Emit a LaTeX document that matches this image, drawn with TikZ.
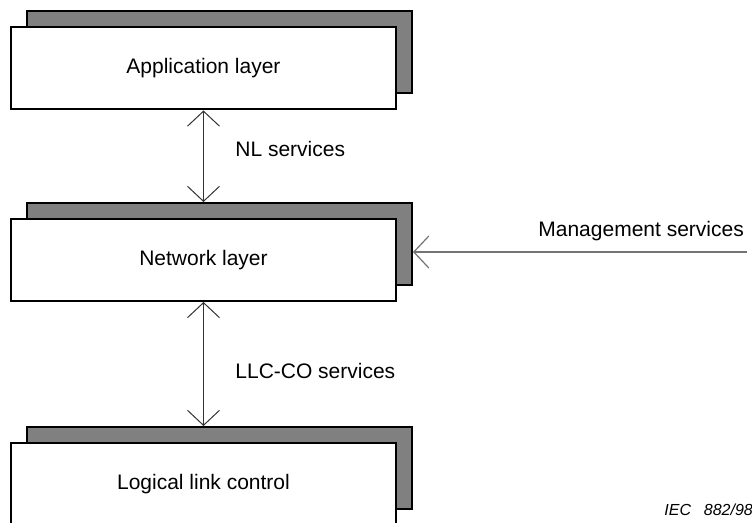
\documentclass[tikz,border=0pt]{standalone}
\usepackage{fontspec}
\setmainfont{Liberation Sans}
\usetikzlibrary{positioning,arrows.meta}

\tikzset{barb/.tip={Straight Barb[length=7.5pt,width=16pt]}}

\begin{document}
\begin{tikzpicture}[
  x=0.5pt, y=-0.5pt,
  layer/.style={rectangle, draw, line width=1pt, fill=white, inner sep=0pt,
                minimum width=192.5pt, minimum height=41pt,
                font=\fontsize{10.5}{12}\selectfont},
  backlayer/.style={layer, fill=black!50},
  service/.style={barb-barb, line width=0.5pt, black!80},
  feed/.style={-barb, line width=0.6pt, black!55},
  svclabel/.style={anchor=base west, inner sep=0pt, font=\fontsize{10.5}{12}\selectfont}
]
\useasboundingbox (0,0) rectangle (752,523);

% stacked layer boxes
\node[backlayer] (appback) at (219.5,52.5) {};
\node[layer] (app) at (203.5,68.5) {Application layer};
\node[backlayer] (netback) at (219.5,244) {};
\node[layer] (net) at (203.5,260) {Network layer};
\node[backlayer] (llcback) at (219.5,468) {};
\node[layer] (llc) at (203.5,484) {Logical link control};

% service access between layers
\draw[service] (app.south) -- (app.south |- netback.north);
\draw[service] (net.south) -- (net.south |- llcback.north);
\node[svclabel] (nlsvc) at (235,157) {NL services};
\node[svclabel] (llcsvc) at (235,379) {LLC-CO services};

% management input
\coordinate (mgmt) at (747,252);
\draw[feed] (mgmt) -- (netback.east |- mgmt);
\node[svclabel] (mgmtsvc) at (538,237) {Management services};

\node[anchor=base west, inner sep=0pt, font=\fontsize{8}{9}\selectfont\itshape]
  (iec) at (664,516) {IEC\hspace{0.8em}882/98};
\end{tikzpicture}
\end{document}
